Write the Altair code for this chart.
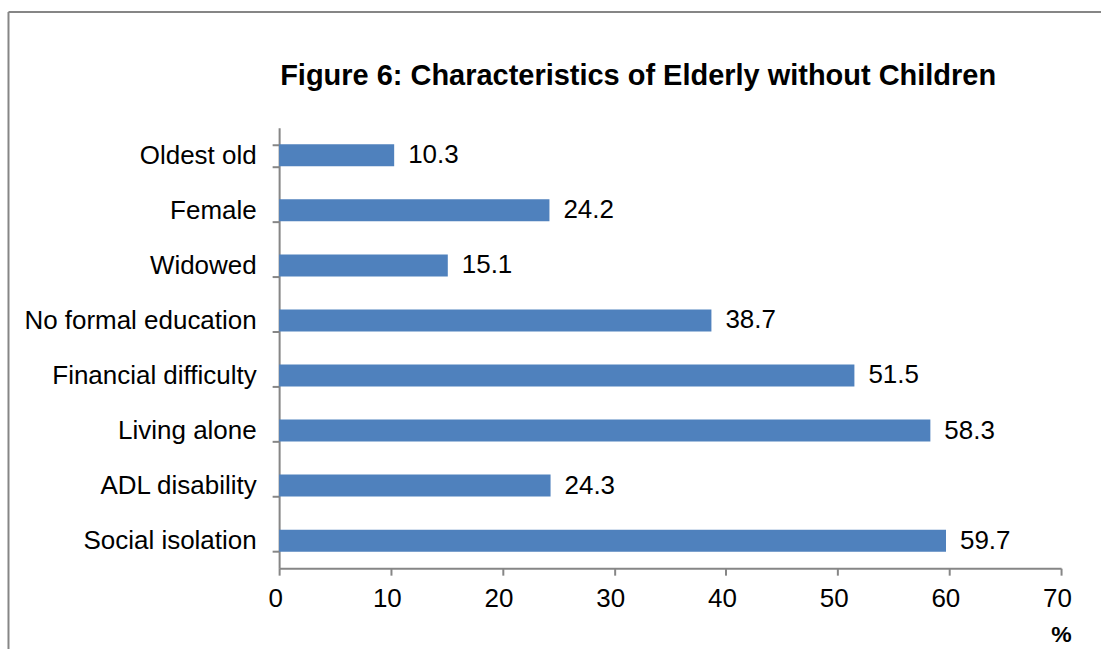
import altair as alt
import pandas as pd

categories = ["Oldest old", "Female", "Widowed", "No formal education\u00a0",
              "Financial difficulty", "Living alone", "ADL disability", "Social isolation\u00a0"]
values = [10.3, 24.2, 15.1, 38.7, 51.5, 58.3, 24.3, 59.7]
x_ticks = [0, 10, 20, 30, 40, 50, 60, 70]
title_text = ["Figure 6: Characteristics of Elderly without Children"]

df = pd.DataFrame({"cat": categories, "val": values})
tdf = pd.DataFrame({"t": title_text})
FONT = "Liberation Sans"
GRAY = "#868686"
W, H = 783, 441

y_enc = alt.Y("cat:N", sort=categories,
              scale=alt.Scale(paddingInner=0.6, paddingOuter=0.3),
              axis=alt.Axis(title=None, tickBand="extent", tickSize=7, tickColor=GRAY,
                            domainColor=GRAY, domainWidth=2, tickWidth=2,
                            labelFont=FONT, labelFontSize=26, labelColor="black",
                            labelPadding=16, labelLimit=500, grid=False))

bars = alt.Chart(df).mark_bar(color="#4F81BD").encode(
    x=alt.X("val:Q", scale=alt.Scale(domain=[0, 70], nice=False),
            axis=alt.Axis(values=x_ticks, tickSize=7, tickColor=GRAY, tickWidth=2,
                          domainColor=GRAY, domainWidth=2, grid=False,
                          labelFont=FONT, labelFontSize=26, labelColor="black",
                          labelPadding=10, labelFlush=False, labelOffset=-4,
                          title="%", titleFont=FONT, titleFontSize=23, titleFontWeight="bold",
                          titleColor="black", titleX=783, titleY=66, titleAlign="center",
                          titleBaseline="middle")),
    y=y_enc,
)

labels = alt.Chart(df).mark_text(align="left", baseline="middle", dx=14,
                                 font=FONT, fontSize=26, color="black").encode(
    x="val:Q", y=alt.Y("cat:N", sort=categories), text=alt.Text("val:Q", format=".1f"))

title = alt.Chart(tdf).mark_text(align="center", baseline="middle", font=FONT,
                                 fontSize=29, fontWeight="bold", color="black").encode(
    x=alt.value(359.5), y=alt.value(-52), text="t:N")

frame_top = alt.Chart(tdf).mark_rule(color=GRAY, strokeWidth=2).encode(
    x=alt.value(-271), x2=alt.value(900), y=alt.value(-116))
frame_left = alt.Chart(tdf).mark_rule(color=GRAY, strokeWidth=2).encode(
    x=alt.value(-271), y=alt.value(-116), y2=alt.value(600))

chart = alt.layer(frame_top, frame_left, title, bars, labels).properties(
    width=W, height=H,
    background="white",
    autosize=alt.AutoSizeParams(type="none"),
    padding={"left": 279.5, "top": 127.5, "right": 40, "bottom": 80},
).configure_view(strokeWidth=0, stroke=None)

chart.save("out.html", embed_options={"renderer": "svg", "actions": False})
